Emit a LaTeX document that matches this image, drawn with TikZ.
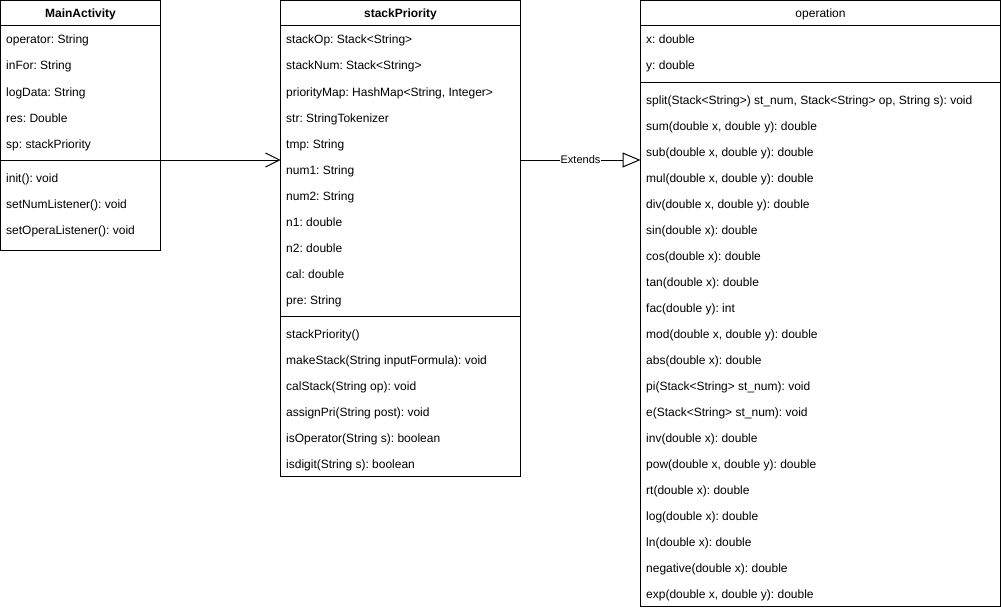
\documentclass[tikz,border=0pt]{standalone}
\usepackage{fontspec}
\setmainfont{Liberation Sans}
\usetikzlibrary{arrows.meta}
\begin{document}
\begin{tikzpicture}[x=1pt,y=-1pt,
  cls/.style={draw, line width=1pt, anchor=north west, inner sep=0pt, outer sep=0pt},
  sepline/.style={line width=1pt},
  mem/.style={anchor=base west, inner sep=0pt, font=\fontsize{12}{14}\selectfont\frenchspacing},
  ttl/.style={anchor=base, inner sep=0pt, font=\fontsize{12}{14}\selectfont},
  conn/.style={line width=1pt},
  lbl/.style={fill=white, inner sep=1pt, font=\fontsize{11}{13}\selectfont}]
\useasboundingbox (0,0) rectangle (1001,610);
% MainActivity
\node[cls, minimum width=160pt, minimum height=250pt] (ma) at (0.5,0.5) {};
\draw[sepline] (0.5,26) -- (160.5,26);
\draw[sepline] (0.5,160) -- (160.5,160);
\node[ttl] (mat) at (80.5,18) {\bfseries MainActivity};
\foreach \t [count=\i] in {operator: String, inFor: String, logData: String, res: Double, sp: stackPriority}
  \node[mem] (maa\i) at (6,{44+(\i-1)*26}) {\t};
\foreach \t [count=\i] in {init(): void, setNumListener(): void, setOperaListener(): void}
  \node[mem] (mam\i) at (6,{182+(\i-1)*26}) {\t};
% stackPriority
\node[cls, minimum width=240pt, minimum height=476pt] (sp) at (280.5,0.5) {};
\draw[sepline] (280.5,26) -- (520.5,26);
\draw[sepline] (280.5,316) -- (520.5,316);
\node[ttl] (spt) at (400.5,18) {\bfseries stackPriority};
\foreach \t [count=\i] in {stackOp: Stack<String>, stackNum: Stack<String>, {priorityMap: HashMap<String, Integer>}, str: StringTokenizer, tmp: String, num1: String, num2: String, n1: double, n2: double, cal: double, pre: String}
  \node[mem] (spa\i) at (286,{44+(\i-1)*26}) {\t};
\foreach \t [count=\i] in {stackPriority(), makeStack(String inputFormula): void, calStack(String op): void, assignPri(String post): void, isOperator(String s): boolean, isdigit(String s): boolean}
  \node[mem] (spm\i) at (286,{338+(\i-1)*26}) {\t};
% operation
\node[cls, minimum width=360pt, minimum height=606pt] (op) at (640.5,0.5) {};
\draw[sepline] (640.5,26) -- (1000.5,26);
\draw[sepline] (640.5,82) -- (1000.5,82);
\node[ttl] (opt) at (820.5,18) {operation};
\foreach \t [count=\i] in {x: double, y: double}
  \node[mem] (opa\i) at (646,{44+(\i-1)*26}) {\t};
\foreach \t [count=\i] in {{split(Stack<String>) st\_num, Stack<String> op, String s): void}, {sum(double x, double y): double}, {sub(double x, double y): double}, {mul(double x, double y): double}, {div(double x, double y): double}, sin(double x): double, cos(double x): double, tan(double x): double, fac(double y): int, {mod(double x, double y): double}, abs(double x): double, pi(Stack<String> st\_num): void, e(Stack<String> st\_num): void, inv(double x): double, {pow(double x, double y): double}, rt(double x): double, log(double x): double, ln(double x): double, negative(double x): double, {exp(double x, double y): double}}
  \node[mem] (opm\i) at (646,{104+(\i-1)*26}) {\t};
% connectors
\coordinate (c1) at (160.5,160);
\coordinate (c2) at (280.5,160);
\draw[conn, -{Straight Barb[length=14pt,width=14pt,line width=1pt]}] (c1) -- (c2);
\coordinate (c3) at (520.5,160);
\coordinate (c4) at (640.5,160);
\draw[conn, -{Triangle[open,length=18pt,width=15pt,fill=white]}] (c3) -- node[lbl] (ext) {Extends} (c4);
\end{tikzpicture}
\end{document}
